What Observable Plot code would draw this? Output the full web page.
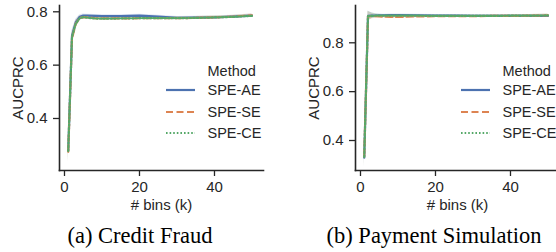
<!DOCTYPE html>
<html><head><meta charset="utf-8">
<script src="https://cdn.jsdelivr.net/npm/d3@7"></script>
<script src="https://cdn.jsdelivr.net/npm/@observablehq/plot@0.6"></script>
<style>
html,body{margin:0;padding:0;background:#fff;overflow:hidden;}
#root{position:relative;width:556px;height:252px;overflow:hidden;background:#fff;}
.panel{position:absolute;top:0;}
.cap{position:absolute;top:225px;font-family:"Liberation Serif","Times New Roman",serif;font-size:22.5px;color:#000;white-space:nowrap;transform:translateX(-50%);line-height:1;}
.legend{position:absolute;top:0;}
</style></head><body><div id="root"></div>
<script>
// ---- data ----
const methods = ["SPE-AE", "SPE-SE", "SPE-CE"];
const colors = ["#4c72b0", "#dd8452", "#55a868"];
const dashes = [null, "7,3.5", "1.6,2"];
const bins = [1, 2, 3, 4, 5, 6, 8, 10, 15, 20, 25, 30, 35, 40, 45, 50];
const ciHalf = [0.04, 0.02, 0.012, 0.008, 0.006, 0.005, 0.005, 0.005, 0.005, 0.005, 0.005, 0.005, 0.005, 0.005, 0.005, 0.006];
const xTicks = [0, 20, 40];
const yTicks = [0.4, 0.6, 0.8];

const creditAE = [0.280, 0.710, 0.760, 0.780, 0.786, 0.786, 0.785, 0.784, 0.784, 0.786, 0.782, 0.777, 0.778, 0.779, 0.782, 0.786];
const creditSE = [0.275, 0.700, 0.755, 0.776, 0.780, 0.779, 0.776, 0.775, 0.775, 0.776, 0.776, 0.776, 0.777, 0.779, 0.782, 0.787];
const creditCE = [0.278, 0.705, 0.755, 0.775, 0.780, 0.778, 0.775, 0.774, 0.775, 0.776, 0.776, 0.776, 0.777, 0.779, 0.781, 0.785];

const payAE = [0.330, 0.910, 0.911, 0.911, 0.912, 0.912, 0.913, 0.913, 0.912, 0.911, 0.911, 0.910, 0.910, 0.910, 0.910, 0.910];
const paySE = [0.335, 0.908, 0.909, 0.909, 0.908, 0.907, 0.906, 0.906, 0.908, 0.909, 0.909, 0.909, 0.910, 0.910, 0.911, 0.912];
const payCE = [0.333, 0.909, 0.910, 0.911, 0.911, 0.911, 0.911, 0.911, 0.911, 0.910, 0.910, 0.910, 0.910, 0.911, 0.911, 0.912];

const panels = [
  {series: [creditAE, creditSE, creditCE], yDomain: [0.205, 0.8236], left: 0, caption: "(a) Credit Fraud", capX: 140, legendX: 166},
  {series: [payAE, paySE, payCE], yDomain: [0.2772, 0.9527], left: 296, caption: "(b) Payment Simulation", capX: 434, legendX: 461}
];

const root = document.getElementById("root");
const ink = "#262626";

for (const pn of panels) {
  const rows = [];
  pn.series.forEach((vals, i) => vals.forEach((v, j) => rows.push({k: bins[j], method: methods[i], v, lo: v - ciHalf[j], hi: v + ciHalf[j]})));
  const svg = Plot.plot({
    width: 278, height: 205,
    marginLeft: 59, marginRight: 15, marginTop: 5, marginBottom: 35,
    x: {domain: [-1.33, 53.07]},
    y: {domain: pn.yDomain},
    color: {domain: methods, range: colors},
    style: {fontFamily: "'Liberation Sans', Arial, sans-serif", fontSize: "15px", color: ink, background: "transparent", overflow: "visible"},
    marks: [
      Plot.areaY(rows, {x: "k", y1: "lo", y2: "hi", z: "method", fill: "method", fillOpacity: 0.18, clip: true}),
      ...methods.map((m, i) => Plot.lineY(rows.filter(r => r.method === m), {x: "k", y: "v", stroke: colors[i], strokeWidth: 2.2, strokeDasharray: dashes[i], clip: true})),
      Plot.axisX({ticks: xTicks, tickSize: 6, tickPadding: 5, strokeWidth: 1.3, tickFormat: d => String(d), label: "# bins (k)", labelAnchor: "center", labelArrow: false, labelOffset: 39}),
      Plot.axisY({ticks: yTicks, tickSize: 6, tickPadding: 6, strokeWidth: 1.3, tickFormat: d3.format(".1f"), label: "AUCPRC", labelAnchor: "center", labelArrow: false, labelOffset: 47}),
      Plot.frame({anchor: "left", stroke: ink, strokeWidth: 1.6}),
      Plot.frame({anchor: "bottom", stroke: ink, strokeWidth: 1.6})
    ]
  });
  svg.classList.add("panel");
  svg.style.left = pn.left + "px";
  root.appendChild(svg);

  // legend
  const lg = d3.create("svg").attr("class", "legend").attr("width", 150).attr("height", 150)
    .style("left", (pn.legendX - 5) + "px")
    .style("font-family", "'Liberation Sans', Arial, sans-serif").style("font-size", "14.5px").style("fill", ink);
  lg.append("text").attr("x", 46.5).attr("y", 71).attr("dy", "0.35em").text("Method");
  const ys = [90, 112, 133];
  methods.forEach((m, i) => {
    lg.append("line").attr("x1", 5).attr("x2", 34).attr("y1", ys[i]).attr("y2", ys[i])
      .attr("stroke", colors[i]).attr("stroke-width", 2.2).attr("stroke-dasharray", dashes[i]);
    lg.append("text").attr("x", 46.5).attr("y", ys[i]).attr("dy", "0.35em").text(m);
  });
  root.appendChild(lg.node());

  const cap = document.createElement("div");
  cap.className = "cap";
  cap.style.left = pn.capX + "px";
  cap.textContent = pn.caption;
  root.appendChild(cap);
}
</script></body></html>
